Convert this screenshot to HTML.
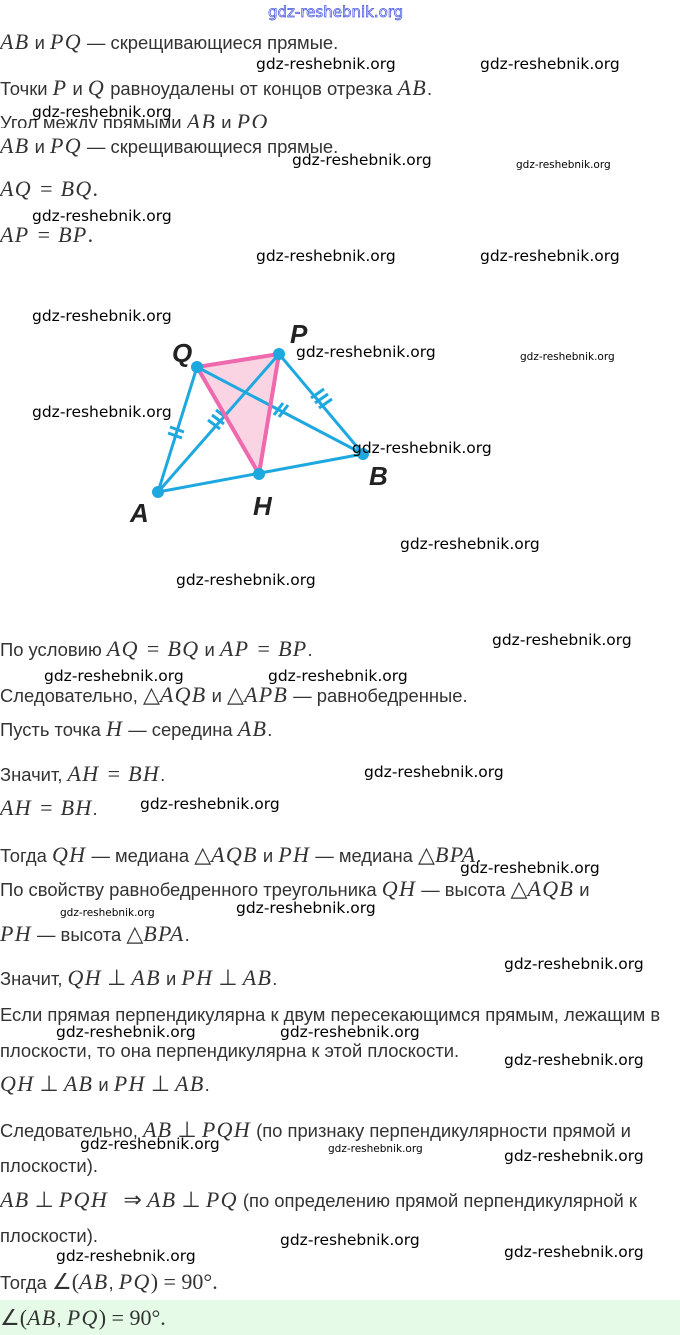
<!DOCTYPE html>
<html><head><meta charset="utf-8"><style>
body{margin:0;width:680px;height:1335px;background:#fff;position:relative;overflow:hidden;font-family:"Liberation Sans","DejaVu Sans",sans-serif;color:#333;}
.t{position:absolute;left:0;font-size:18.4px;white-space:nowrap;line-height:20px;}
.m{font-family:"Liberation Serif",serif;font-style:italic;font-size:22px;letter-spacing:1.3px;}
.n{font-family:"Liberation Serif",serif;font-size:22px;}
.o{font-family:"Liberation Serif",serif;font-size:22px;margin:0 3px;}
.w{position:absolute;font-family:"DejaVu Sans",sans-serif;font-size:15.5px;color:#000;white-space:nowrap;line-height:18px;}
.s{font-size:10.5px;}
</style></head><body>
<div class="w" style="left:268px;top:3px;color:#fff;-webkit-text-stroke:0.7px #4050e0;font-size:15px">gdz-reshebnik.org</div>
<div class="t" style="top:32px"><span class="m">AB</span> и <span class="m">PQ</span> — скрещивающиеся прямые.</div>
<div class="t" style="top:78px">Точки <span class="m">P</span> и <span class="m">Q</span> равноудалены от концов отрезка <span class="m">AB</span>.</div>
<div style="position:absolute;left:0;top:110px;height:18px;overflow:hidden;width:400px"><div class="t" style="top:2px">Угол между прямыми <span class="m">AB</span> и <span class="m">PQ</span></div></div>
<div class="t" style="top:136px"><span class="m">AB</span> и <span class="m">PQ</span> — скрещивающиеся прямые.</div>
<div class="t" style="top:179px"><span class="m">AQ</span> <span class="o">=</span> <span class="m">BQ</span><span class="n">.</span></div>
<div class="t" style="top:225px"><span class="m">AP</span> <span class="o">=</span> <span class="m">BP</span><span class="n">.</span></div>

<svg style="position:absolute;left:0;top:0" width="680" height="600">
<polygon points="197,367 279,354 259,474" fill="#f9c9dc" opacity="0.8"/>
<g stroke="#1ea8e0" stroke-width="3" fill="none">
<line x1="197" y1="367" x2="158" y2="492"/><line x1="158" y1="492" x2="363" y2="454"/>
<line x1="158" y1="492" x2="279" y2="354"/><line x1="197" y1="367" x2="363" y2="454"/>
<line x1="279" y1="354" x2="363" y2="454"/>
<path d="M170 427l14 5M168 433l14 5M208 420l12 9M212 415l12 9M216 410l12 9M274 415l9 -12M279 417l9 -12M311 398l13 -9M315 403l13 -9M319 408l13 -9"/>
</g>
<g stroke="#ee69ad" stroke-width="4"><line x1="197" y1="367" x2="279" y2="354"/><line x1="197" y1="367" x2="259" y2="474"/><line x1="279" y1="354" x2="259" y2="474"/></g>
<g fill="#1ea8e0"><circle cx="197" cy="367" r="6"/><circle cx="279" cy="354" r="6"/><circle cx="158" cy="492" r="6"/><circle cx="259" cy="474" r="6"/><circle cx="363" cy="454" r="6"/></g>
<g font-family="Liberation Sans,sans-serif" font-weight="bold" font-style="italic" font-size="26" fill="#222">
<text x="172" y="362">Q</text><text x="290" y="343">P</text><text x="130" y="522">A</text><text x="253" y="515">H</text><text x="369" y="485">B</text></g>
</svg>

<div class="t" style="top:639px">По условию <span class="m">AQ</span> <span class="o">=</span> <span class="m">BQ</span> и <span class="m">AP</span> <span class="o">=</span> <span class="m">BP</span>.</div>
<div class="t" style="top:685px">Следовательно, <span class="n">△</span><span class="m">AQB</span> и <span class="n">△</span><span class="m">APB</span> — равнобедренные.</div>
<div class="t" style="top:719px">Пусть точка <span class="m">H</span> — середина <span class="m">AB</span>.</div>
<div class="t" style="top:764px">Значит, <span class="m">AH</span> <span class="o">=</span> <span class="m">BH</span>.</div>
<div class="t" style="top:798px"><span class="m">AH</span> <span class="o">=</span> <span class="m">BH</span>.</div>
<div class="t" style="top:845px">Тогда <span class="m">QH</span> — медиана <span class="n">△</span><span class="m">AQB</span> и <span class="m">PH</span> — медиана <span class="n">△</span><span class="m">BPA</span>.</div>
<div class="t" style="top:879px">По свойству равнобедренного треугольника <span class="m">QH</span> — высота <span class="n">△</span><span class="m">AQB</span> и</div>
<div class="t" style="top:924px"><span class="m">PH</span> — высота <span class="n">△</span><span class="m">BPA</span>.</div>
<div class="t" style="top:968px">Значит, <span class="m">QH</span> <span class="n">⊥</span> <span class="m">AB</span> и <span class="m">PH</span> <span class="n">⊥</span> <span class="m">AB</span>.</div>
<div class="t" style="top:1005px">Если прямая перпендикулярна к двум пересекающимся прямым, лежащим в</div>
<div class="t" style="top:1041px">плоскости, то она перпендикулярна к этой плоскости.</div>
<div class="t" style="top:1074px"><span class="m">QH</span> <span class="n">⊥</span> <span class="m">AB</span> и <span class="m">PH</span> <span class="n">⊥</span> <span class="m">AB</span>.</div>
<div class="t" style="top:1120px">Следовательно, <span class="m">AB</span> <span class="n">⊥</span> <span class="m">PQH</span> (по признаку перпендикулярности прямой и</div>
<div class="t" style="top:1156px">плоскости).</div>
<div class="t" style="top:1190px"><span class="m">AB</span> <span class="n">⊥</span> <span class="m">PQH</span> &nbsp; <span class="n">⇒</span> <span class="m">AB</span> <span class="n">⊥</span> <span class="m">PQ</span> (по определению прямой перпендикулярной к</div>
<div class="t" style="top:1226px">плоскости).</div>
<div class="t" style="top:1272px">Тогда <span class="n">∠(</span><span class="m">AB</span>, <span class="m">PQ</span><span class="n">) = 90°.</span></div>
<div style="position:absolute;left:0;top:1300px;width:680px;height:35px;background:#e5fbe8"></div>
<div class="t" style="top:1308px"><span class="n">∠(</span><span class="m">AB</span>, <span class="m">PQ</span><span class="n">) = 90°.</span></div>

<div class="w" style="left:256px;top:55px">gdz-reshebnik.org</div>
<div class="w" style="left:480px;top:55px">gdz-reshebnik.org</div>
<div class="w" style="left:32px;top:103px">gdz-reshebnik.org</div>
<div class="w" style="left:292px;top:151px">gdz-reshebnik.org</div>
<div class="w s" style="left:516px;top:156px">gdz-reshebnik.org</div>
<div class="w" style="left:32px;top:207px">gdz-reshebnik.org</div>
<div class="w" style="left:256px;top:247px">gdz-reshebnik.org</div>
<div class="w" style="left:480px;top:247px">gdz-reshebnik.org</div>
<div class="w" style="left:32px;top:307px">gdz-reshebnik.org</div>
<div class="w" style="left:296px;top:343px">gdz-reshebnik.org</div>
<div class="w s" style="left:520px;top:348px">gdz-reshebnik.org</div>
<div class="w" style="left:32px;top:403px">gdz-reshebnik.org</div>
<div class="w" style="left:352px;top:439px">gdz-reshebnik.org</div>
<div class="w" style="left:400px;top:535px">gdz-reshebnik.org</div>
<div class="w" style="left:176px;top:571px">gdz-reshebnik.org</div>
<div class="w" style="left:492px;top:631px">gdz-reshebnik.org</div>
<div class="w" style="left:44px;top:667px">gdz-reshebnik.org</div>
<div class="w" style="left:268px;top:667px">gdz-reshebnik.org</div>
<div class="w" style="left:364px;top:763px">gdz-reshebnik.org</div>
<div class="w" style="left:140px;top:795px">gdz-reshebnik.org</div>
<div class="w" style="left:460px;top:859px">gdz-reshebnik.org</div>
<div class="w s" style="left:60px;top:904px">gdz-reshebnik.org</div>
<div class="w" style="left:236px;top:899px">gdz-reshebnik.org</div>
<div class="w" style="left:504px;top:955px">gdz-reshebnik.org</div>
<div class="w" style="left:56px;top:1023px">gdz-reshebnik.org</div>
<div class="w" style="left:280px;top:1023px">gdz-reshebnik.org</div>
<div class="w" style="left:504px;top:1051px">gdz-reshebnik.org</div>
<div class="w" style="left:80px;top:1135px">gdz-reshebnik.org</div>
<div class="w s" style="left:328px;top:1140px">gdz-reshebnik.org</div>
<div class="w" style="left:504px;top:1147px">gdz-reshebnik.org</div>
<div class="w" style="left:280px;top:1231px">gdz-reshebnik.org</div>
<div class="w" style="left:56px;top:1247px">gdz-reshebnik.org</div>
<div class="w" style="left:504px;top:1243px">gdz-reshebnik.org</div>
</body></html>
